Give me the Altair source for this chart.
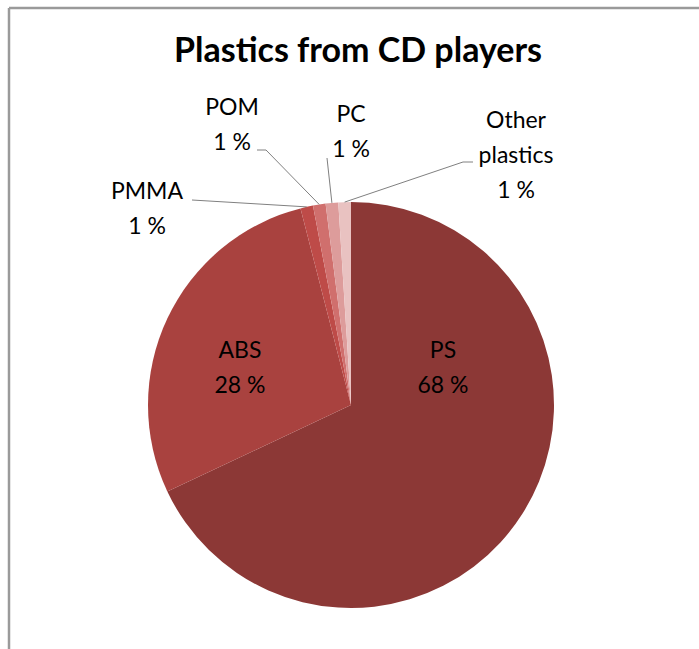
import math
import altair as alt
import pandas as pd

# ---- data ----
categories = ["PS", "ABS", "PMMA", "POM", "PC", "Other plastics"]
values = [68, 28, 1, 1, 1, 1]
label_texts = ["PS\n68 %", "ABS\n28 %", "PMMA\n1 %", "POM\n1 %", "PC\n1 %", "Other\nplastics\n1 %"]
title_text = "Plastics from CD players"

# ---- style / layout ----
colors = ["#8C3836", "#A9423F", "#BE4B48", "#D06F6D", "#DD9C9B", "#E9C2C1"]
W, H = 699, 649
CX, CY, R = 351, 405, 203
FONT = "Lato"
# first-line baseline anchor of each label
label_pos = {
    "PS": (443, 358), "ABS": (240, 358), "PMMA": (147, 199),
    "POM": (232, 115), "PC": (351, 122), "Other plastics": (516, 128),
}
leader_start = {
    "PMMA": [(192, 200)], "POM": [(257, 150), (266, 150)],
    "PC": [(327, 158)], "Other plastics": [(473, 162), (463, 162)],
}

df = pd.DataFrame({"category": categories, "value": values,
                   "idx": list(range(len(categories))), "label": label_texts})
df["x"] = [label_pos[c][0] for c in categories]
df["y"] = [label_pos[c][1] for c in categories]

# leader lines: from label anchor to the slice's mid-angle on the rim
total = sum(values)
rows = []
cum = 0
for c, v in zip(categories, values):
    mid = (cum + v / 2) / total * 2 * math.pi
    cum += v
    if c in leader_start:
        pts = leader_start[c] + [(CX + R * math.sin(mid), CY - R * math.cos(mid))]
        for k, (px, py) in enumerate(pts):
            rows.append({"category": c, "k": k, "x": px, "y": py})
lines_df = pd.DataFrame(rows)

xs = alt.Scale(domain=[0, W])
ys = alt.Scale(domain=[0, H], reverse=True)

pie = alt.Chart(df).mark_arc(outerRadius=R).encode(
    theta=alt.Theta("value:Q", stack=True),
    order=alt.Order("idx:Q", sort="ascending"),
    color=alt.Color("category:N", scale=alt.Scale(domain=categories, range=colors), legend=None),
    x=alt.value(CX), y=alt.value(CY),
)

leaders = alt.Chart(lines_df).mark_line(color="#808080", strokeWidth=1).encode(
    x=alt.X("x:Q", scale=xs, axis=None),
    y=alt.Y("y:Q", scale=ys, axis=None),
    detail="category:N",
    order="k:Q",
)

labels = alt.Chart(df).mark_text(font=FONT, fontSize=23, color="#000000",
                                 lineBreak="\n", lineHeight=35,
                                 align="center", baseline="alphabetic").encode(
    x=alt.X("x:Q", scale=xs, axis=None),
    y=alt.Y("y:Q", scale=ys, axis=None),
    text="label:N",
)

title = alt.Chart(pd.DataFrame({"t": [title_text]})).mark_text(
    font=FONT, fontSize=34, fontWeight="bold", color="#000000",
    align="center", baseline="alphabetic").encode(
    x=alt.value(358), y=alt.value(62), text="t:N")

frame_v = alt.Chart(pd.DataFrame({"a": [0]})).mark_rule(color="#9a9a9a", strokeWidth=2.5).encode(
    x=alt.value(9), y=alt.value(8), y2=alt.value(H))
frame_h = alt.Chart(pd.DataFrame({"a": [0]})).mark_rule(color="#9a9a9a", strokeWidth=2.5).encode(
    x=alt.value(9), x2=alt.value(W), y=alt.value(8))

chart = alt.layer(pie, leaders, labels, title, frame_v, frame_h).properties(
    width=W, height=H, autosize=alt.AutoSizeParams(type="none"), padding=0,
    background="white",
).configure_view(stroke=None)

chart.save("out.html", embed_options={"renderer": "svg", "actions": False})
